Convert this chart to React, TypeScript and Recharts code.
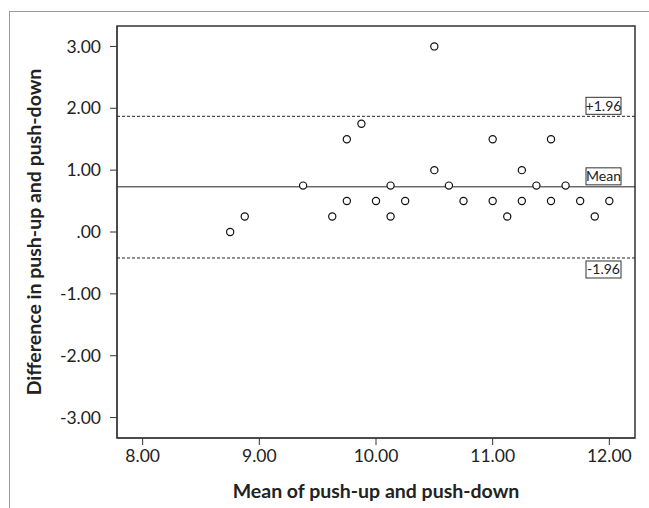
import React from "react";
import {
  ReferenceArea,
  ReferenceLine,
  Scatter,
  ScatterChart,
  XAxis,
  YAxis,
} from "recharts";

// Bland-Altman: mean of the two measures vs. their difference
const meanValues = [
  8.75, 8.875, 9.375, 9.625, 9.75, 9.75, 9.875, 10, 10.125, 10.125, 10.25,
  10.5, 10.5, 10.625, 10.75, 11, 11, 11.125, 11.25, 11.25, 11.375, 11.5, 11.5,
  11.625, 11.75, 11.875, 12,
];
const diffValues = [
  0, 0.25, 0.75, 0.25, 1.5, 0.5, 1.75, 0.5, 0.75, 0.25, 0.5, 3, 1, 0.75, 0.5,
  1.5, 0.5, 0.25, 1, 0.5, 0.75, 1.5, 0.5, 0.75, 0.5, 0.25, 0.5,
];

const meanDiff = 0.73;
const upperLimit = 1.87;
const lowerLimit = -0.42;

const xTicks = [8, 9, 10, 11, 12];
const yTicks = [-3, -2, -1, 0, 1, 2, 3];
const xDomain: [number, number] = [7.78, 12.22];
const yDomain: [number, number] = [-3.33, 3.33];

const points = meanValues.map((m, i) => ({ mean: m, diff: diffValues[i] }));

const FONT = "Lato, 'Liberation Sans', sans-serif";

function fmt(v: number) {
  if (v === 0) return ".00";
  return v.toFixed(2);
}

function BoxLabel({ viewBox, text, below }: any) {
  const right = viewBox.x + viewBox.width - 14;
  const w = 35;
  const h = 17;
  const top = below ? viewBox.y + 3 : viewBox.y - h - 2;
  return (
    <g>
      <rect
        x={right - w}
        y={top}
        width={w}
        height={h}
        fill="#fff"
        stroke="#333"
        strokeWidth={1}
      />
      <text
        x={right - w / 2}
        y={top + h / 2 + 5}
        textAnchor="middle"
        fontSize={14}
        fontFamily={FONT}
        fill="#222"
      >
        {text}
      </text>
    </g>
  );
}

function YTitle({ viewBox }: any) {
  const cy = viewBox.y + viewBox.height / 2;
  return (
    <text
      x={33}
      y={cy}
      transform={`rotate(-90, 33, ${cy})`}
      textAnchor="middle"
      dominantBaseline="central"
      fontSize={19.5}
      fontWeight="bold"
      fontFamily={FONT}
      fill="#222"
    >
      Difference in push-up and push-down
    </text>
  );
}

const Dot = (props: any) => (
  <circle
    cx={props.cx}
    cy={props.cy}
    r={3.6}
    fill="#fff"
    stroke="#111"
    strokeWidth={1.2}
  />
);

export default function App() {
  return (
    <div
      style={{
        position: "absolute",
        left: 0,
        top: 0,
        width: 649,
        height: 508,
        background: "#fff",
      }}
    >
      <div
        style={{
          position: "absolute",
          left: 9,
          top: 11,
          right: 0,
          bottom: 0,
          borderTop: "1px solid #999",
          borderLeft: "1px solid #999",
        }}
      />
      <ScatterChart
        width={649}
        height={508}
        margin={{ top: 26, right: 14, bottom: 0, left: 17 }}
        style={{ position: "absolute", left: 0, top: 0 }}
      >
        <XAxis
          type="number"
          dataKey="mean"
          domain={xDomain}
          ticks={xTicks}
          tickFormatter={fmt}
          allowDataOverflow
          height={70}
          stroke="#333"
          tickSize={7}
          tickMargin={5}
          tick={{ fill: "#222", fontSize: 17.5, fontFamily: FONT }}
          label={{
            value: "Mean of push-up and push-down",
            position: "insideBottom",
            offset: 10,
            fill: "#222",
            fontSize: 19.5,
            fontWeight: "bold",
            fontFamily: FONT,
          }}
        />
        <YAxis
          type="number"
          dataKey="diff"
          domain={yDomain}
          ticks={yTicks}
          tickFormatter={fmt}
          allowDataOverflow
          width={100}
          stroke="#333"
          tickSize={7}
          tickMargin={9}
          tick={{ fill: "#222", fontSize: 17.5, fontFamily: FONT }}
          label={{ content: (p: any) => <YTitle {...p} /> }}
        />
        <ReferenceArea
          x1={xDomain[0]}
          x2={xDomain[1]}
          y1={yDomain[0]}
          y2={yDomain[1]}
          fill="none"
          stroke="#333"
          strokeWidth={1.5}
          fillOpacity={0}
        />
        <ReferenceLine
          y={upperLimit}
          stroke="#222"
          strokeDasharray="3 2"
          strokeWidth={1}
          label={{ content: (p: any) => <BoxLabel {...p} text="+1.96" /> }}
        />
        <ReferenceLine
          y={meanDiff}
          stroke="#222"
          strokeWidth={1}
          label={{ content: (p: any) => <BoxLabel {...p} text="Mean" /> }}
        />
        <ReferenceLine
          y={lowerLimit}
          stroke="#222"
          strokeDasharray="3 2"
          strokeWidth={1}
          label={{
            content: (p: any) => <BoxLabel {...p} text="-1.96" below />,
          }}
        />
        <Scatter data={points} shape={Dot} isAnimationActive={false} />
      </ScatterChart>
    </div>
  );
}
